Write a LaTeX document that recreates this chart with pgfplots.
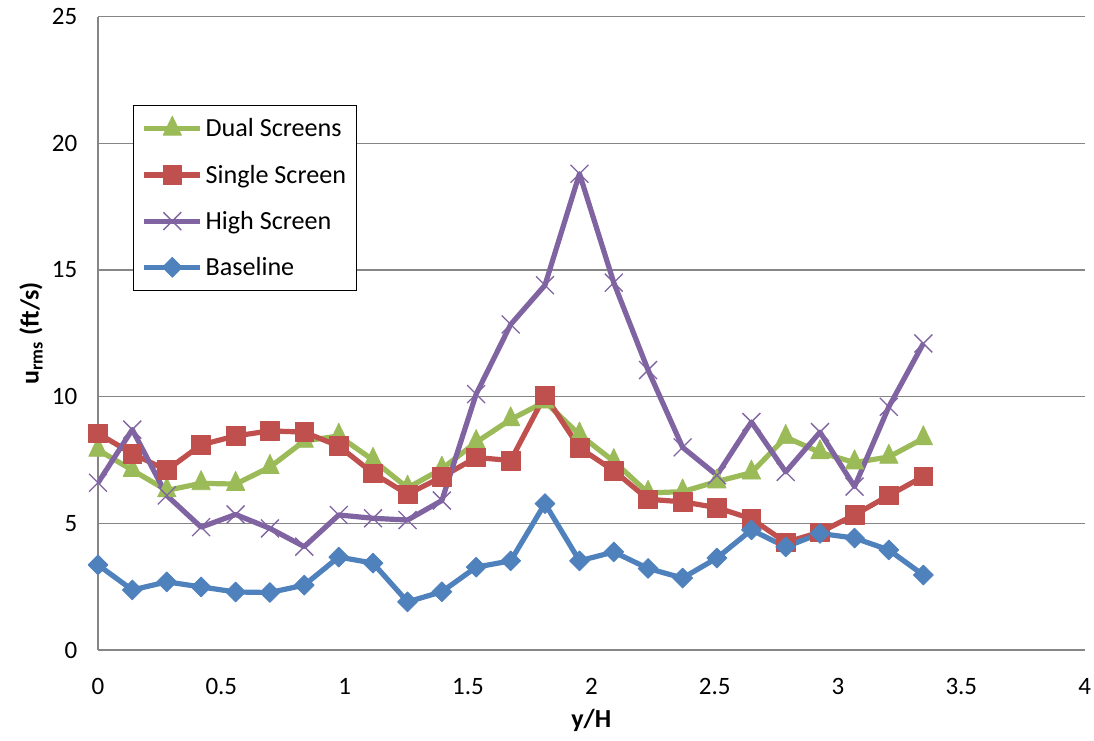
\documentclass[border=0pt]{standalone}
\usepackage{fontspec}
\setmainfont{Carlito}
\usepackage{pgfplots}
\usepackage{pgfplotstable}
\pgfplotsset{compat=1.18}

\definecolor{dualc}{HTML}{9BBB59}
\definecolor{singlec}{HTML}{C0504D}
\definecolor{highc}{HTML}{8064A2}
\definecolor{basec}{HTML}{4F81BD}
\definecolor{axgray}{HTML}{868686}

% y/H, u_rms (ft/s)
\pgfplotstableread{
x      dual  single high  base
0.000  7.90  8.55   6.60  3.36
0.139  7.10  7.75   8.70  2.37
0.279  6.30  7.10   6.10  2.69
0.418  6.58  8.10   4.85  2.49
0.558  6.55  8.45   5.35  2.29
0.697  7.22  8.65   4.80  2.27
0.836  8.25  8.60   4.08  2.56
0.976  8.45  8.05   5.33  3.67
1.115  7.50  6.98   5.20  3.43
1.255  6.40  6.15   5.13  1.90
1.394  7.15  6.83   5.90  2.30
1.533  8.20  7.60  10.10  3.27
1.673  9.10  7.48  12.85  3.52
1.812  9.80 10.05  14.40  5.78
1.952  8.50  7.98  18.80  3.52
2.091  7.45  7.08  14.50  3.87
2.230  6.20  5.95  11.05  3.22
2.370  6.25  5.85   8.00  2.84
2.509  6.65  5.62   6.90  3.63
2.649  7.00  5.18   9.00  4.74
2.788  8.40  4.25   7.03  4.07
2.927  7.80  4.65   8.60  4.60
3.067  7.40  5.33   6.45  4.42
3.206  7.62  6.10   9.60  3.95
3.346  8.35  6.85  12.10  2.96
}\urms

\begin{document}
\begin{tikzpicture}
\begin{axis}[
    width=740pt, height=475pt, scale only axis,
    xmin=0, xmax=4, ymin=0, ymax=25,
    xtick={0,0.5,...,4}, ytick={0,5,...,25},
    axis x line*=bottom, axis y line*=left,
    axis line style={draw=axgray, line width=1pt},
    major tick length=0pt,
    ymajorgrids, grid style={draw=axgray, line width=1pt},
    /pgf/number format/assume math mode=true,
    tick label style={font=\fontsize{18.75}{22}\selectfont},
    yticklabel style={xshift=-12pt},
    xticklabel style={yshift=-18pt},
    label style={font=\bfseries\fontsize{19.5}{23}\selectfont},
    xlabel={y/H},
    ylabel={u\textsubscript{rms} (ft/s)},
    xlabel style={yshift=-4pt},
    ylabel style={yshift=0pt},
    every axis plot/.append style={line width=3.9pt, line join=round},
    legend cell align=left,
    legend style={at={(0.0355,0.861)}, anchor=north west,
        draw=black, line width=1pt, row sep=15.5pt,
        inner xsep=6pt, inner ysep=8pt,
        font=\fontsize{19.6}{23}\selectfont},
    legend image code/.code={
        \draw[mark repeat=2, mark phase=2, #1]
        plot coordinates {(0pt,0pt) (21pt,0pt) (42pt,0pt)};},
]
\addplot[color=dualc, mark=triangle*, mark size=8pt,
    mark options={line width=0.5pt, yscale=1.2}] table[x=x, y=dual] {\urms};
\addlegendentry{Dual Screens}
\addplot[color=singlec, mark=square*, mark size=7pt,
    mark options={line width=0.5pt}] table[x=x, y=single] {\urms};
\addlegendentry{Single Screen}
\addplot[color=highc, mark=x, mark size=9.5pt,
    mark options={line width=1pt}] table[x=x, y=high] {\urms};
\addlegendentry{High Screen}
\addplot[color=basec, mark=square*, mark size=5.3pt,
    mark options={line width=0.5pt, rotate=45}] table[x=x, y=base] {\urms};
\addlegendentry{Baseline}
\end{axis}
\pgfresetboundingbox
\path (current axis.south west) ++(-73.5pt,-67.5pt) rectangle ++(820.5pt,555pt);
\end{tikzpicture}
\end{document}
